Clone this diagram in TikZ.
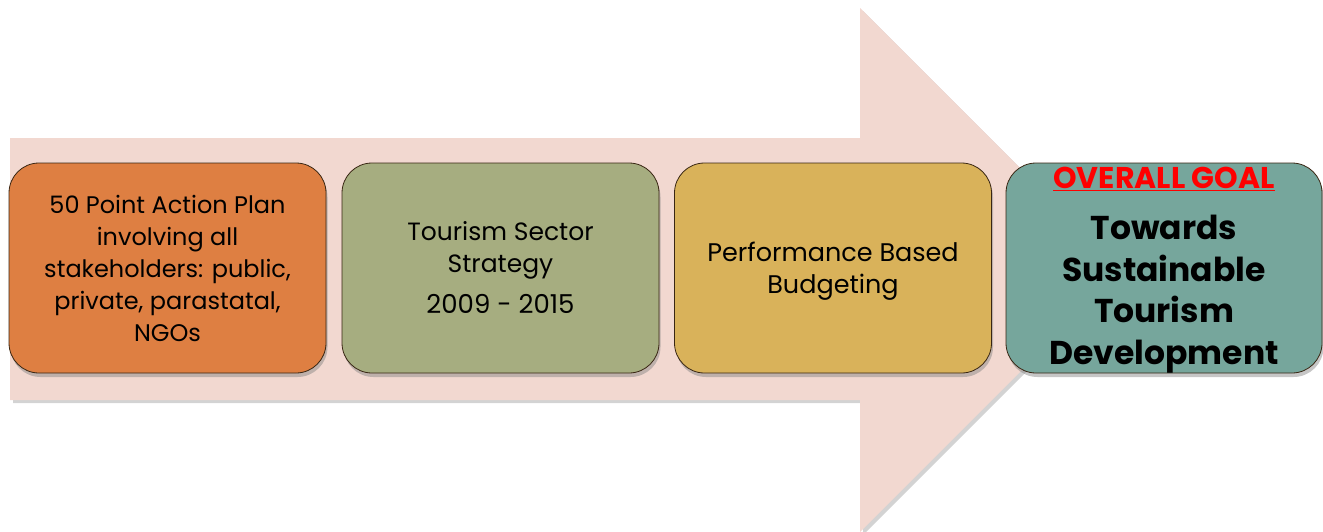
\documentclass[tikz,border=0pt]{standalone}
\usepackage{fontspec}
\setmainfont{Poppins}
\usetikzlibrary{shadows}
\definecolor{arrowpink}{HTML}{F2D8D0}
\definecolor{boxorange}{HTML}{DE7F42}
\definecolor{boxgreen}{HTML}{A6AD80}
\definecolor{boxyellow}{HTML}{D9B25A}
\definecolor{boxteal}{HTML}{76A69C}
\definecolor{goalred}{HTML}{FF0000}
\tikzset{
  bigarrow/.style={fill=arrowpink, draw=none, drop shadow={shadow xshift=3pt, shadow yshift=-3pt, opacity=0.35}},
  stagebox/.style={rectangle, rounded corners=30pt, draw=black!70!brown, line width=0.8pt,
    minimum width=317pt, minimum height=210pt, inner sep=0pt,
    drop shadow={shadow xshift=1.5pt, shadow yshift=-4pt, opacity=0.45}},
  stagetext/.style={align=center, font=\fontsize{24}{32}\selectfont, text=black},
  goaltitle/.style={font=\fontsize{30}{32}\selectfont\bfseries, text=goalred},
  goaltext/.style={align=center, font=\fontsize{33}{41.5}\selectfont\bfseries, text=black}
}
\begin{document}
\begin{tikzpicture}[x=1pt,y=-1pt]
\useasboundingbox (0,0) rectangle (1323,531);
\path[bigarrow] (10,138) -- (860,138) -- (860,8) -- (1122,270) -- (860,532) -- (860,400) -- (10,400) -- cycle;
\node[stagebox, fill=boxorange] (b1) at (167.5,268) {};
\node[stagebox, fill=boxgreen] (b2) at (500.5,268) {};
\node[stagebox, fill=boxyellow] (b3) at (833,268) {};
\node[stagebox, fill=boxteal, minimum width=316pt] (b4) at (1164,268) {};
\node[stagetext] (t1) at (b1.center) {50 Point Action Plan\\involving all\\stakeholders: public,\\private, parastatal,\\NGOs};
\node[stagetext, font=\fontsize{25}{32}\selectfont] (t2) at (b2.center) {Tourism Sector\\Strategy\\[9pt]{\fontsize{26}{32}\selectfont 2009 - 2015}};
\node[stagetext, font=\fontsize{25.5}{32}\selectfont] (t3) at ([yshift=-3pt]b3.center) {Performance Based\\Budgeting};
\node[goaltitle, anchor=north] (g1) at ([yshift=-1pt]b4.north) {\underline{OVERALL GOAL}};
\node[goaltext] (g2) at ([yshift=-26pt]b4.center) {Towards\\Sustainable\\Tourism\\Development};
\end{tikzpicture}
\end{document}
